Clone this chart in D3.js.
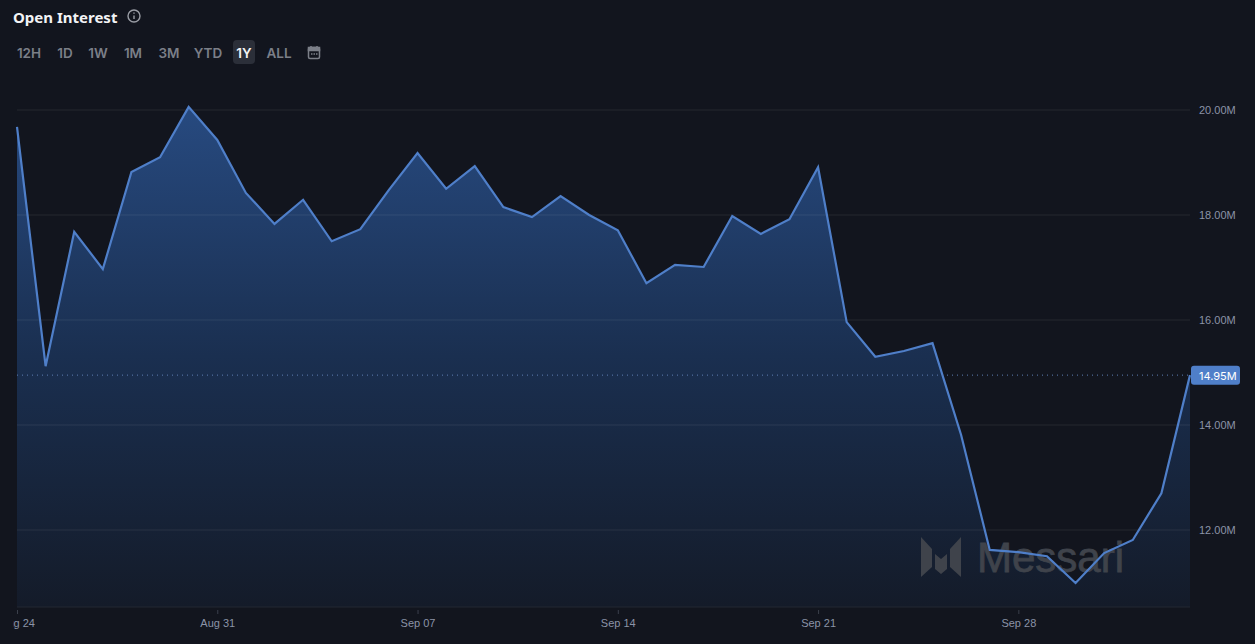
<!DOCTYPE html>
<html>
<head>
<meta charset="utf-8">
<script src="https://cdn.jsdelivr.net/npm/d3@7"></script>
<style>
  html, body { margin: 0; padding: 0; background: #12151e; overflow: hidden; }
  svg { display: block; font-family: Inter, "Noto Sans", sans-serif; }
  .axis path { display: none; }
  .tick-label { fill: #8b93a7; font-size: 11px; }
</style>
</head>
<body>
<svg id="chart" width="1255" height="644"></svg>
<script>
// daily open interest in millions, starting Aug 24
const startDate = Date.UTC(2022, 7, 24);
const values = [
  19.68, 15.12, 17.68, 16.97, 18.82, 19.10, 20.06, 19.43, 18.42, 17.83,
  18.29, 17.50, 17.73, 18.48, 19.18, 18.50, 18.93, 18.15, 17.96, 18.36,
  18.00, 17.71, 16.70, 17.05, 17.01, 17.98, 17.64, 17.92, 18.91, 15.96,
  15.30, 15.41, 15.56, 13.81, 11.62, 11.58, 11.50, 10.99, 11.56, 11.81,
  12.70, 14.95
];
const yTicks = [12, 14, 16, 18, 20];
const xTicks = ["2022-08-24", "2022-08-31", "2022-09-07", "2022-09-14", "2022-09-21", "2022-09-28"];
const ranges = ["12H", "1D", "1W", "1M", "3M", "YTD", "1Y", "ALL"];
const rangeX = [29, 65, 98, 133, 169, 208, 244, 279];
const lastValue = 14.95;

const data = values.map((v, i) => ({ date: new Date(startDate + i * 864e5), value: v }));

const x = d3.scaleUtc()
  .domain([data[0].date, data[data.length - 1].date])
  .range([17, 1190]);
const y = d3.scaleLinear().domain([12, 20]).range([530, 110]);
const bottom = 607;

const svg = d3.select("#chart");
const defs = svg.append("defs");

const grad = defs.append("linearGradient")
  .attr("id", "areaFill")
  .attr("gradientUnits", "userSpaceOnUse")
  .attr("x1", 0).attr("x2", 0).attr("y1", 105).attr("y2", bottom);
grad.append("stop").attr("offset", 0).attr("stop-color", "#274a80");
grad.append("stop").attr("offset", 0.5).attr("stop-color", "#1a2f50");
grad.append("stop").attr("offset", 1).attr("stop-color", "#141b29");

defs.append("clipPath").attr("id", "xClip")
  .append("rect").attr("x", 13).attr("y", 600).attr("width", 1200).attr("height", 44);

// header
svg.append("text").attr("x", 13).attr("y", 23)
  .attr("fill", "#f2f3f5").attr("font-family", "Noto Sans, sans-serif")
  .attr("font-size", 15).attr("font-weight", 700)
  .text("Open Interest");

const info = svg.append("g").attr("transform", "translate(134,16)")
  .attr("fill", "none").attr("stroke", "#9a9da5").attr("stroke-width", 1.4);
info.append("circle").attr("r", 6);
info.append("path").attr("d", "M0,-0.5V3M0,-3.4V-2.2");

svg.append("rect").attr("x", 233).attr("y", 40).attr("width", 22).attr("height", 24)
  .attr("rx", 4).attr("fill", "#2b2f39");

svg.selectAll(".range").data(ranges).join("text")
  .attr("class", "range")
  .attr("x", (d, i) => rangeX[i])
  .attr("y", 58)
  .attr("text-anchor", "middle")
  .attr("font-size", 13.5)
  .attr("font-weight", 600)
  .attr("fill", d => d === "1Y" ? "#f2f3f5" : "#7b7f88")
  .text(d => d);

const cal = svg.append("g").attr("transform", "translate(308,46)")
  .attr("fill", "none").attr("stroke", "#7b7f88").attr("stroke-width", 1.5);
cal.append("rect").attr("x", 0.5).attr("y", 1.5).attr("width", 11).attr("height", 11).attr("rx", 1.5);
cal.append("rect").attr("x", 0.5).attr("y", 1.5).attr("width", 11).attr("height", 3).attr("fill", "#7b7f88");
cal.append("path").attr("d", "M3,0V2M9,0V2M3,8H4.5M5.5,8H7M8,8H9.5");

// area
const area = d3.area().x(d => x(d.date)).y0(bottom).y1(d => y(d.value));
const line = d3.line().x(d => x(d.date)).y(d => y(d.value));

svg.append("path").datum(data).attr("d", area).attr("fill", "url(#areaFill)");

// grid
svg.append("g").selectAll("line").data(yTicks).join("line")
  .attr("x1", 17).attr("x2", 1190)
  .attr("y1", d => y(d)).attr("y2", d => y(d))
  .attr("stroke", "#fff").attr("stroke-opacity", 0.08);

// baseline
svg.append("line").attr("x1", 17).attr("x2", 1190).attr("y1", bottom).attr("y2", bottom)
  .attr("stroke", "#232833");

// watermark sits between the area and the series line
const mark = svg.append("g").attr("transform", "translate(921,537)").attr("fill", "#3f434b");
mark.append("path").attr("d", "M0,0L11,12V30L0,40Z");
mark.append("path").attr("d", "M14,17L20,22L26,17V32L20,37L14,32Z");
mark.append("path").attr("d", "M29,12L40,0V40L29,30Z");
svg.append("text").attr("x", 977).attr("y", 572)
  .attr("fill", "#3f434b").attr("stroke", "#3f434b").attr("stroke-width", 0.8)
  .attr("font-family", "Liberation Sans, sans-serif")
  .attr("font-size", 42).text("Messari");

// series line
svg.append("path").datum(data).attr("d", line)
  .attr("fill", "none").attr("stroke", "#4f7fc9").attr("stroke-width", 2.2);

// last value dotted line
svg.append("line").attr("x1", 17).attr("x2", 1190)
  .attr("y1", y(lastValue)).attr("y2", y(lastValue))
  .attr("stroke", "#5f7fb5").attr("stroke-width", 1).attr("stroke-dasharray", "1 4");

// x axis
const xAxis = d3.axisBottom(x)
  .tickValues(xTicks.map(d => new Date(d)))
  .tickFormat(d3.utcFormat("%b %d"))
  .tickSize(4)
  .tickPadding(5);
const xg = svg.append("g").attr("class", "axis")
  .attr("clip-path", "url(#xClip)")
  .append("g")
  .attr("transform", `translate(0,${bottom + 3})`)
  .call(xAxis);
xg.selectAll("line").attr("stroke", "#3a3f4b");
xg.selectAll("text").attr("class", "tick-label").attr("font-family", null).attr("font-size", null);

// y axis
const yAxis = d3.axisRight(y)
  .tickValues(yTicks)
  .tickFormat(d => d3.format(".2f")(d) + "M")
  .tickSize(0)
  .tickPadding(9);
const yg = svg.append("g").attr("class", "axis")
  .attr("transform", "translate(1190,0)")
  .call(yAxis);
yg.selectAll("text").attr("class", "tick-label").attr("font-family", null).attr("font-size", null);

// last value tag
svg.append("rect").attr("x", 1191).attr("y", y(lastValue) - 9.5)
  .attr("width", 49).attr("height", 19).attr("rx", 3).attr("fill", "#4f7fc9");
svg.append("text").attr("x", 1199).attr("y", y(lastValue) + 4.5)
  .attr("fill", "#fff").attr("font-size", 11).text(d3.format(".2f")(lastValue) + "M");
</script>
</body>
</html>
